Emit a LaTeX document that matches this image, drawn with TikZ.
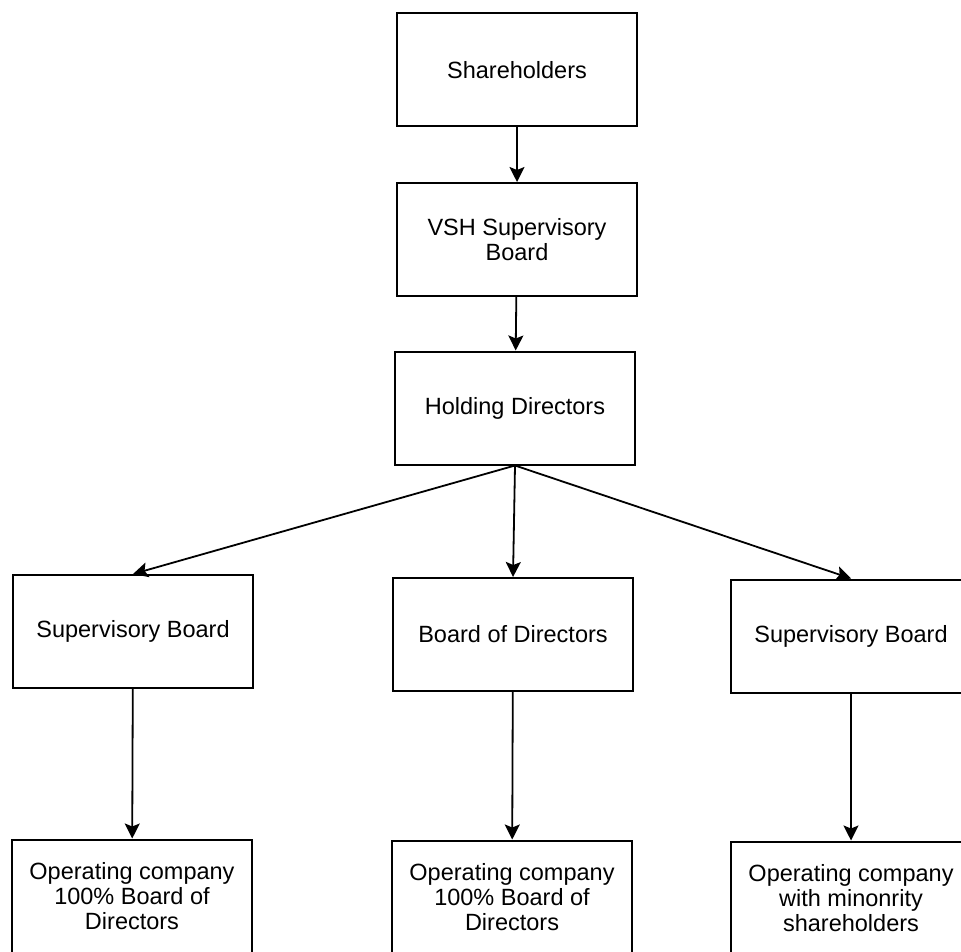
\documentclass[tikz,border=0pt]{standalone}
\usepackage{fontspec}
\setmainfont{Liberation Sans}
\usetikzlibrary{arrows.meta}

\begin{document}
\begin{tikzpicture}[x=0.5pt, y=-0.5pt,
		box/.style = {draw, line width=1pt, minimum width=120pt, minimum height=56.5pt,
			align=center, inner sep=0pt, font=\fontsize{11.75}{12.4}\selectfont},
		link/.style = {-{Stealth[length=7.5pt, width=7.5pt, inset=1.5pt]}, line width=0.9pt}]
			% page frame (right and bottom boxes run off the page)
			\useasboundingbox (0, 0) rectangle (961, 951);
			\clip (0, 0) rectangle (961, 951);
			% top of the group
			\node[box] (share) at (517, 70)    {Shareholders};
			\node[box] (vsh)   at (517, 239.5) {VSH Supervisory\\Board};
			\node[box] (hold)  at (515, 408)   {Holding Directors};
			% middle row
			\node[box] (sbL) at (133, 631.5) {Supervisory Board};
			\node[box] (bod) at (513, 634.5) {Board of Directors};
			\node[box] (sbR) at (851, 636)   {Supervisory Board};
			% operating companies
			\node[box] (opL) at (132, 896) {Operating company\\100\% Board of\\Directors};
			\node[box] (opM) at (512, 897) {Operating company\\100\% Board of\\Directors};
			\node[box] (opR) at (851, 898) {Operating company\\with minonrity\\shareholders};
			% arrows
			\draw[link] (share) -- (vsh);
			\draw[link] (vsh) -- (hold);
			\draw[link] (hold.south) -- (sbL.north);
			\draw[link] (hold.south) -- (bod.north);
			\draw[link] (hold.south) -- (sbR.north);
			\draw[link] (sbL) -- (opL);
			\draw[link] (bod) -- (opM);
			\draw[link] (sbR) -- (opR);
		\end{tikzpicture}
\end{document}
